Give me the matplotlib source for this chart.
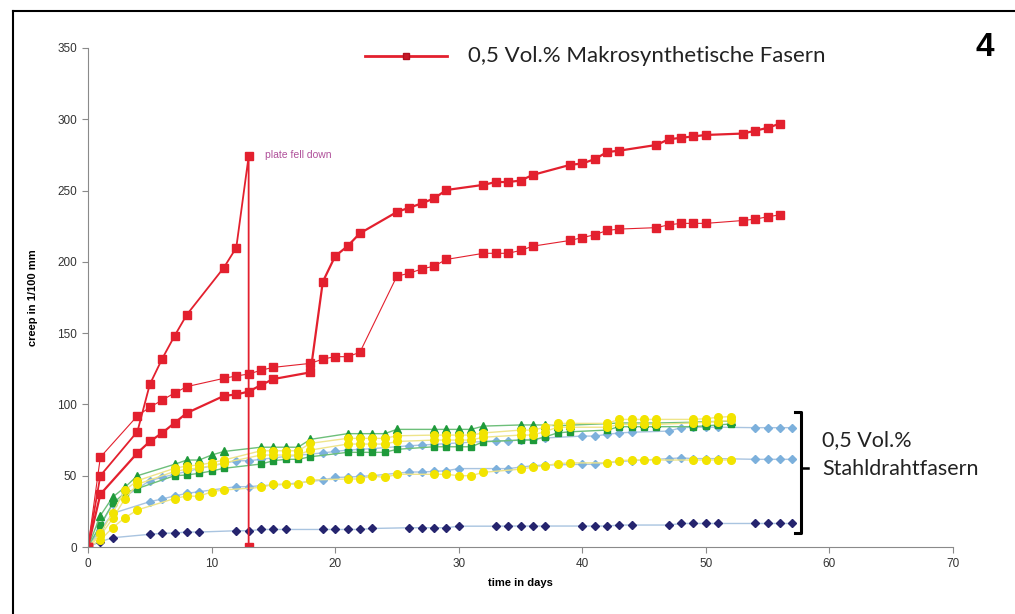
import matplotlib.pyplot as plt
from matplotlib.lines import Line2D

# measurement days
days_red = [0, 1, 4, 5, 6, 7, 8, 11, 12, 13, 14, 15, 18, 19, 20, 21, 22, 25, 26, 27, 28, 29,
            32, 33, 34, 35, 36, 39, 40, 41, 42, 43, 46, 47, 48, 49, 50, 53, 54, 55, 56]
days_plate = [0, 1, 4, 5, 6, 7, 8, 11, 12, 13, 13]
days_gy = [0, 1, 2, 3, 4, 7, 8, 9, 10, 11, 14, 15, 16, 17, 18, 21, 22, 23, 24, 25, 28, 29, 30,
           31, 32, 35, 36, 37, 38, 39, 42, 43, 44, 45, 46, 49, 50, 51, 52]
days_blue = [0, 1, 2, 5, 6, 7, 8, 9, 12, 13, 14, 15, 16, 19, 20, 21, 22, 23, 26, 27, 28, 29, 30,
             33, 34, 35, 36, 37, 40, 41, 42, 43, 44, 47, 48, 49, 50, 51, 54, 55, 56, 57]

# Makrosynthetische Fasern
red_plate = [0, 50, 81, 114, 132, 148, 163, 196, 210, 274, 0]
red_upper = [0, 37, 66, 74, 80, 87, 94, 106, 107, 109, 113.6, 117.8, 122.5, 186, 204, 211, 220,
             235, 238, 241, 244.5, 250.4, 254, 256, 256, 257, 261, 268, 269, 272, 277, 278,
             282, 286, 287, 288, 289, 290, 292, 294, 297]
red_lower = [0, 63, 92, 98, 103, 108, 112.5, 118.3, 120, 121.3, 124, 126, 128.8, 131.8, 133.5,
             133.5, 136.5, 190, 192, 195, 197, 201.7, 206, 206, 206, 208, 211, 215, 217, 219,
             222, 223, 224, 226, 227, 227, 227, 229, 230, 231.6, 233]

# Stahldrahtfasern
green_tri = [0, 22, 35, 42, 50, 58, 61, 61, 64.5, 67, 70, 70, 70, 70, 75.5, 79.5, 79.5, 79.5,
             79.5, 82.5, 82.5, 82.5, 82.5, 82.5, 84.8, 85.6, 85.6, 85.6, 85, 85.5, 86.5, 87, 87,
             87, 87, 87.5, 88, 88, 88.5]
green_sq = [0, 15.4, 30.6, 38, 41, 50, 50.5, 51.7, 53.3, 55.2, 58.2, 60.5, 61.5, 61.5, 63.3,
            66.4, 66.4, 66.4, 66.4, 68.5, 70.3, 70.3, 70.3, 70.3, 73.8, 75, 75, 77.3, 80, 80.8,
            82, 84.4, 84.4, 84.4, 84.4, 84.4, 85, 85.6, 86.3]
yellow_top = [0, 9.6, 24, 40, 46.5, 55.2, 56.8, 57.5, 59.1, 61, 67.5, 67.5, 67.5, 67.5, 72.7,
              76.2, 76.2, 76.2, 76.2, 78, 78.5, 78.5, 78.5, 78.5, 80, 82, 82, 84, 86.7, 86.7,
              86.7, 89.5, 89.5, 89.5, 89.5, 89.5, 90, 91, 91.5]
yellow_mid = [0, 8, 20, 34, 44, 53, 54.5, 55.5, 57, 59, 64.5, 64.5, 64.5, 64.5, 68, 72.2, 72.2,
              72.2, 72.2, 74, 75, 75, 75, 75, 77, 78.5, 78.5, 81, 84, 84, 84, 86, 86, 86, 86, 87,
              87.5, 88, 89]
yellow_low = [0, 4.9, 13.6, 20.6, 26, 34, 35.8, 35.5, 38.8, 40, 41.8, 44, 44, 44, 47, 47.7, 47.7,
              49.8, 48.8, 51, 51, 51, 50, 50, 52.4, 54.6, 56, 57, 58.5, 59, 59, 60.6, 61, 61, 61,
              61, 61, 61, 61]
blue_up = [0, 15, 30, 46.5, 48.9, 51, 53, 55, 60.5, 60.5, 61.5, 62.5, 63.5, 66, 67, 68, 68.5, 69,
           71, 71.5, 72, 72.5, 73, 74.5, 74.5, 75, 75.5, 76.5, 77.8, 77.8, 79, 80, 80.5, 81.3,
           83.7, 84, 84, 84, 83.7, 83.7, 83.7, 83.7]
blue_low = [0, 12, 23.6, 31.8, 33.7, 35.8, 37.6, 38.8, 42.3, 42.3, 43, 43.5, 44, 47, 48.8, 49,
            49.5, 50, 52.6, 52.6, 53, 53.5, 55, 55, 55, 56, 57, 57.5, 58, 58, 59, 60, 60.5, 62,
            62.5, 62, 62, 62, 61.5, 61.5, 61.5, 61.5]
navy = [0, 3.7, 6.5, 8.9, 9.6, 9.8, 10.5, 10.5, 11.4, 11.4, 12.3, 12.3, 12.3, 12.3, 12.3, 12.3,
        12.3, 13, 13.5, 13.5, 13.5, 13.5, 14.6, 14.6, 14.7, 14.7, 14.7, 14.7, 14.7, 14.7, 14.7,
        15.4, 15.4, 15.4, 16.5, 16.5, 16.5, 16.5, 16.5, 16.5, 16.5, 16.5]

fig = plt.figure(figsize=(10.15, 6.14), dpi=100)
ax = fig.add_axes([88 / 1015, 67 / 614, 865 / 1015, 499 / 614])

red = '#e3202e'
green = '#1e9a3a'
yellow = '#f2e400'
lblue = '#7cb0dc'
dnavy = '#25246e'

# steel fibre series (drawn first, behind the red ones)
ax.plot(days_blue, navy, color='#a9c4e0', lw=1, marker='D', ms=4, mfc=dnavy, mec=dnavy)
ax.plot(days_blue, blue_low, color='#a9c4e0', lw=1, marker='D', ms=4, mfc=lblue, mec=lblue)
ax.plot(days_blue, blue_up, color='#a9c4e0', lw=1, marker='D', ms=4, mfc=lblue, mec=lblue)
ax.plot(days_gy, yellow_low, color='#eee48a', lw=1, marker='o', ms=5.5, mfc=yellow, mec=yellow)
ax.plot(days_gy, green_sq, color='#6dbf7a', lw=1, marker='s', ms=5, mfc=green, mec=green)
ax.plot(days_gy, green_tri, color='#6dbf7a', lw=1, marker='^', ms=6, mfc=green, mec=green)
ax.plot(days_gy, yellow_mid, color='#eee48a', lw=1, marker='o', ms=5.5, mfc=yellow, mec=yellow)
ax.plot(days_gy, yellow_top, color='#eee48a', lw=1, marker='o', ms=5.5, mfc=yellow, mec=yellow)

# macro synthetic fibre series
ax.plot(days_red, red_lower, color=red, lw=0.8, marker='s', ms=5.5, mfc=red, mec=red)
ax.plot(days_red, red_upper, color=red, lw=1.6, marker='s', ms=5.5, mfc=red, mec=red)
ax.plot(days_plate, red_plate, color=red, lw=1.3, marker='s', ms=5.5, mfc=red, mec=red)

ax.text(14.3, 275, 'plate fell down', fontsize=7.5, color='#b0509a', va='center',
        family='Liberation Sans')

ax.set_xlim(0, 70)
ax.set_ylim(0, 350)
ax.set_xticks(range(0, 71, 10))
ax.set_yticks(range(0, 351, 50))
for s in ['top', 'right']:
    ax.spines[s].set_visible(False)
for s in ['left', 'bottom']:
    ax.spines[s].set_color('#8a8a8a')
ax.tick_params(colors='#8a8a8a', labelcolor='#333333', labelsize=8.5, length=4, pad=4)
for lab in ax.get_xticklabels() + ax.get_yticklabels():
    lab.set_family('Liberation Sans')
ax.set_xlabel('time in days', fontsize=8, fontweight='bold', family='Liberation Sans',
              labelpad=6)
ax.set_ylabel('creep in 1/100 mm', fontsize=8, fontweight='bold', family='Liberation Sans',
              labelpad=14)

# legend line at the top
fig.add_artist(Line2D([365 / 1015, 447 / 1015], [1 - 56 / 614, 1 - 56 / 614], color=red, lw=2))
fig.add_artist(Line2D([406 / 1015], [1 - 56 / 614], color=red, marker='s', ms=5, mfc='#c81828',
                      mec='#b01020'))
fig.text(468 / 1015, 1 - 56 / 614, '0,5 Vol.% Makrosynthetische Fasern', fontsize=16,
         family='Lato', va='center', color='#222222')
fig.text(985 / 1015, 1 - 48 / 614, '4', fontsize=24, fontweight='bold',
         family='Liberation Sans', ha='center', va='center')

# bracket for the steel fibre group
bx = 801 / 1015
y_top = 1 - 412 / 614
y_bot = 1 - 533 / 614
y_mid = 1 - 468 / 614
fig.add_artist(Line2D([795 / 1015, bx, bx, 795 / 1015], [y_top, y_top, y_bot, y_bot],
                      color='black', lw=2.2))
fig.add_artist(Line2D([bx, 808 / 1015], [y_mid, y_mid], color='black', lw=1.8))
fig.text(822 / 1015, 1 - 440 / 614, '0,5 Vol.%', fontsize=15.5, family='Lato', va='center',
         color='#222222')
fig.text(822 / 1015, 1 - 469 / 614, 'Stahldrahtfasern', fontsize=15.5, family='Lato',
         va='center', color='#222222')

# outer frame
fig.add_artist(Line2D([13 / 1015, 13 / 1015], [0, 1 - 11 / 614], color='black', lw=1.5))
fig.add_artist(Line2D([13 / 1015, 1], [1 - 11 / 614, 1 - 11 / 614], color='black', lw=1.5))

fig.savefig('out.png', dpi=100)
